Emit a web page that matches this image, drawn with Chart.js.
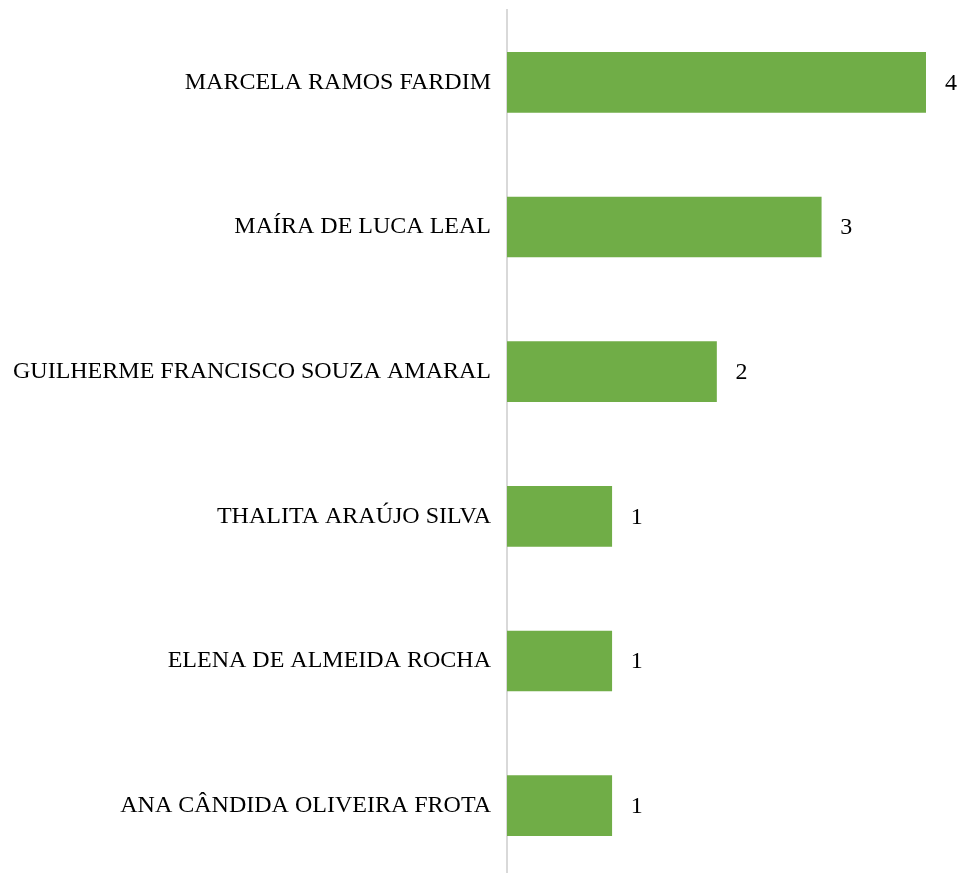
<!DOCTYPE html>
<html>
<head>
<meta charset="utf-8">
<script src="https://cdn.jsdelivr.net/npm/chart.js@4"></script>
<style>
  html, body { margin: 0; padding: 0; background: #ffffff; overflow: hidden; }
  #wrap { position: absolute; left: 0; top: 0; width: 962px; height: 878px; }
</style>
</head>
<body>
<div id="wrap"><canvas id="names"></canvas></div>
<script>
// names and counts, top to bottom
var names = [
    'MARCELA RAMOS FARDIM',
    'MAÍRA DE LUCA LEAL',
    'GUILHERME FRANCISCO SOUZA AMARAL',
    'THALITA ARAÚJO SILVA',
    'ELENA DE ALMEIDA ROCHA',
    'ANA CÂNDIDA OLIVEIRA FROTA'
];
var counts = [4, 3, 2, 1, 1, 1];

var serif = 'Liberation Serif, Times New Roman, serif';

// writes the count just past the end of each bar
var valueLabels = {
    id: 'valueLabels',
    afterDatasetsDraw: function (c) {
        var ctx = c.ctx;
        ctx.save();
        ctx.font = '24px ' + serif;
        ctx.fillStyle = '#000000';
        ctx.textAlign = 'left';
        ctx.textBaseline = 'middle';
        c.getDatasetMeta(0).data.forEach(function (bar, i) {
            ctx.fillText(String(c.data.datasets[0].data[i]), bar.x + 19, bar.y + 1);
        });
        ctx.restore();
    }
};

var chart = document.getElementById('names').getContext('2d');

var namesChart = new Chart(chart, {
    type: 'bar',
    data: {
        labels: names,
        datasets: [
            {
                data: counts,
                backgroundColor: '#70ad47',
                borderWidth: 0,
                barThickness: 60
            }
        ]
    },
    options: {
        indexAxis: 'y',
        responsive: true,
        maintainAspectRatio: false,
        animation: false,
        layout: { padding: { left: 0, right: 36, top: 10, bottom: 0 } },
        plugins: {
            legend: { display: false },
            tooltip: { enabled: false }
        },
        scales: {
            x: {
                display: false,
                min: 0,
                max: 4
            },
            y: {
                grid: { display: false },
                border: { display: true, color: '#d9d9d9', width: 2 },
                ticks: {
                    font: { family: serif, size: 24 },
                    color: '#000000',
                    padding: 8
                },
                afterFit: function (s) {
                    s.width = 507;
                    s.paddingTop = 0;
                    s.paddingBottom = 0;
                }
            }
        }
    },
    plugins: [valueLabels]
});
</script>
</body>
</html>
